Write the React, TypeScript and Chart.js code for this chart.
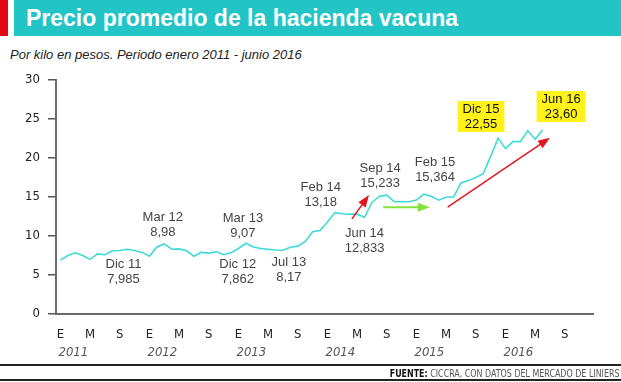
import React, { useEffect, useRef } from "react";
import { Chart, registerables } from "chart.js";

Chart.register(...registerables);

// Monthly average price (pesos per kilo), Jan 2011 .. Jun 2016
const monthlyPrice = [
  6.9, 7.5, 7.85, 7.5, 7.0, 7.7, 7.6, 8.1, 8.15, 8.3, 8.15, 7.9,
  7.4, 8.6, 8.98, 8.3, 8.35, 8.1, 7.4, 7.9, 7.8, 8.0, 7.6, 7.86,
  8.4, 9.07, 8.6, 8.4, 8.3, 8.2, 8.17, 8.55, 8.7, 9.3, 10.55, 10.7,
  11.8, 13.0, 12.85, 12.8, 12.8, 12.4, 14.3, 15.1, 15.23, 14.4, 14.4, 14.4,
  14.6, 15.36, 15.1, 14.6, 15.0, 15.0, 16.8, 17.1, 17.5, 18.0, 20.2, 22.55,
  21.2, 22.1, 22.1, 23.5, 22.4, 23.6,
];

const monthTickLetters = ["E", "M", "S"];
const monthTickValues = [0, 4, 8, 12, 16, 20, 24, 28, 32, 36, 40, 44, 48, 52, 56, 60, 64, 68];
const yearLabels = ["2011", "2012", "2013", "2014", "2015", "2016"];
const yTicks = [0, 5, 10, 15, 20, 25, 30];

const calloutDates = ["Dic 11", "Mar 12", "Dic 12", "Mar 13", "Jul 13", "Feb 14", "Jun 14", "Sep 14", "Feb 15", "Dic 15", "Jun 16"];
const calloutValues = ["7,985", "8,98", "7,862", "9,07", "8,17", "13,18", "12,833", "15,233", "15,364", "22,55", "23,60"];
const calloutHighlighted = [false, false, false, false, false, false, false, false, false, true, true];
// label anchor (month index, value) of first text line centre
const calloutAnchorMonth = [8.5, 13.8, 23.9, 24.6, 30.8, 35.1, 41.0, 43.1, 50.5, 56.7, 67.5];
const calloutAnchorValue = [6.41, 12.44, 6.41, 12.31, 6.67, 16.28, 10.38, 18.72, 19.49, 26.28, 27.56];

// trend arrows in data space
const arrowFromMonth = [39.3, 43.5, 52.2];
const arrowFromValue = [12.2, 13.7, 13.7];
const arrowToMonth = [41.6, 49.8, 66.0];
const arrowToValue = [15.25, 13.7, 22.6];
const arrowColors = ["#E3161E", "#86E23A", "#E3161E"];

const NARROW = "'Liberation Sans Narrow', 'DejaVu Sans Condensed', 'Roboto Condensed', sans-serif";
const SANS = "'Liberation Sans', Arial, sans-serif";

function drawArrow(ctx: CanvasRenderingContext2D, x1: number, y1: number, x2: number, y2: number, color: string, w: number) {
  const a = Math.atan2(y2 - y1, x2 - x1);
  const L = 12;
  const W = 4.5;
  ctx.strokeStyle = color;
  ctx.fillStyle = color;
  ctx.lineWidth = w;
  ctx.beginPath();
  ctx.moveTo(x1, y1);
  ctx.lineTo(x2 - Math.cos(a) * L * 0.8, y2 - Math.sin(a) * L * 0.8);
  ctx.stroke();
  ctx.beginPath();
  ctx.moveTo(x2, y2);
  ctx.lineTo(x2 - Math.cos(a) * L - Math.sin(a) * W, y2 - Math.sin(a) * L + Math.cos(a) * W);
  ctx.lineTo(x2 - Math.cos(a) * L + Math.sin(a) * W, y2 - Math.sin(a) * L - Math.cos(a) * W);
  ctx.closePath();
  ctx.fill();
}

const overlayPlugin = {
  id: "overlay",
  afterDatasetsDraw(chart: any) {
    const { ctx, scales } = chart;
    const xs = scales.x;
    const ys = scales.y;
    ctx.save();
    // year labels
    ctx.font = `italic 13px ${NARROW}`;
    ctx.fillStyle = "#555";
    ctx.textAlign = "left";
    ctx.textBaseline = "middle";
    yearLabels.forEach((yl, i) => {
      ctx.fillText(yl, xs.getPixelForValue(i * 12) - 2, 353);
    });
    // arrows
    arrowFromMonth.forEach((m, i) => {
      drawArrow(
        ctx,
        xs.getPixelForValue(m),
        ys.getPixelForValue(arrowFromValue[i]),
        xs.getPixelForValue(arrowToMonth[i]),
        ys.getPixelForValue(arrowToValue[i]),
        arrowColors[i],
        i === 1 ? 2 : 1.5
      );
    });
    // callouts
    ctx.font = `13px ${SANS}`;
    ctx.textAlign = "center";
    ctx.textBaseline = "middle";
    calloutDates.forEach((d, i) => {
      const cx = xs.getPixelForValue(calloutAnchorMonth[i]);
      const cy = ys.getPixelForValue(calloutAnchorValue[i]);
      const lh = 15;
      if (calloutHighlighted[i]) {
        const w = Math.max(ctx.measureText(d).width, ctx.measureText(calloutValues[i]).width) + 10;
        ctx.fillStyle = "#FFF21A";
        ctx.fillRect(cx - w / 2, cy - 8, w, lh + 16);
        ctx.fillStyle = "#111";
      } else {
        ctx.fillStyle = "#444";
      }
      ctx.fillText(d, cx, cy);
      ctx.fillText(calloutValues[i], cx, cy + lh);
    });
    ctx.restore();
  },
};

export default function App() {
  const canvasRef = useRef<HTMLCanvasElement | null>(null);

  useEffect(() => {
    if (!canvasRef.current) return;
    const chart = new Chart(canvasRef.current, {
      type: "line",
      data: {
        datasets: [
          {
            data: monthlyPrice.map((v, i) => ({ x: i, y: v })),
            borderColor: "#3FDAD8",
            borderWidth: 1.6,
            pointRadius: 0,
            tension: 0,
            fill: false,
          },
        ],
      },
      options: {
        animation: false,
        responsive: false,
        maintainAspectRatio: false,
        layout: { padding: { top: 80, right: 28, left: 0, bottom: 0 } },
        plugins: { legend: { display: false }, tooltip: { enabled: false }, title: { display: false } },
        scales: {
          x: {
            type: "linear",
            min: -0.6,
            max: 71.8,
            afterFit: (s: any) => {
              s.height = 68;
            },
            afterBuildTicks: (s: any) => {
              s.ticks = monthTickValues.map((v) => ({ value: v }));
            },
            grid: { display: false },
            border: { display: true, color: "#6a6a6a", width: 2 },
            ticks: {
              autoSkip: false,
              maxRotation: 0,
              padding: 5,
              color: "#222",
              font: { family: NARROW, size: 13 },
              callback: (v: any) => monthTickLetters[Math.round(Number(v) / 4) % 3],
            },
          },
          y: {
            min: 0,
            max: 30,
            afterFit: (s: any) => {
              s.width = 56;
            },
            afterBuildTicks: (s: any) => {
              s.ticks = yTicks.map((v) => ({ value: v }));
            },
            grid: { drawOnChartArea: false, drawTicks: true, tickLength: 8, color: "#555", lineWidth: 1.5 },
            border: { display: true, color: "#6a6a6a", width: 2 },
            ticks: {
              padding: 8,
              color: "#222",
              font: { family: NARROW, size: 13 },
            },
          },
        },
      },
      plugins: [overlayPlugin],
    });
    return () => chart.destroy();
  }, []);

  return (
    <div style={{ position: "fixed", left: 0, top: 0, width: 621, height: 382, background: "#fff", overflow: "hidden" }}>
      <div style={{ position: "absolute", left: 0, top: 0, width: 8, height: 36, background: "#E30613" }} />
      <div style={{ position: "absolute", left: 14, top: 0, width: 607, height: 36, background: "#22C4C5" }} />
      <div
        style={{
          position: "absolute",
          left: 26,
          top: 0,
          height: 36,
          lineHeight: "36px",
          fontFamily: SANS,
          fontWeight: "bold",
          fontSize: 23,
          color: "#fff",
          whiteSpace: "nowrap",
        }}
      >
        Precio promedio de la hacienda vacuna
      </div>
      <div
        style={{
          position: "absolute",
          left: 10,
          top: 47,
          lineHeight: "16px",
          fontFamily: SANS,
          fontStyle: "italic",
          fontSize: 13,
          color: "#222",
          whiteSpace: "nowrap",
        }}
      >
        Por kilo en pesos. Periodo enero 2011 - junio 2016
      </div>
      <canvas ref={canvasRef} width={621} height={382} style={{ position: "absolute", left: 0, top: 0 }} />
      <div style={{ position: "absolute", left: 0, top: 364, width: 621, height: 2, background: "#222" }} />
      <div
        style={{
          position: "absolute",
          right: 2,
          top: 366,
          lineHeight: "14px",
          fontFamily: NARROW,
          fontSize: 10.5,
          color: "#555",
          whiteSpace: "nowrap",
          transform: "scaleX(0.84)",
          transformOrigin: "right center",
        }}
      >
        <span style={{ fontWeight: "bold", color: "#111" }}>FUENTE:</span> CICCRA, CON DATOS DEL MERCADO DE LINIERS
      </div>
      <div style={{ position: "absolute", left: 0, top: 379, width: 621, height: 2, background: "#222" }} />
    </div>
  );
}
